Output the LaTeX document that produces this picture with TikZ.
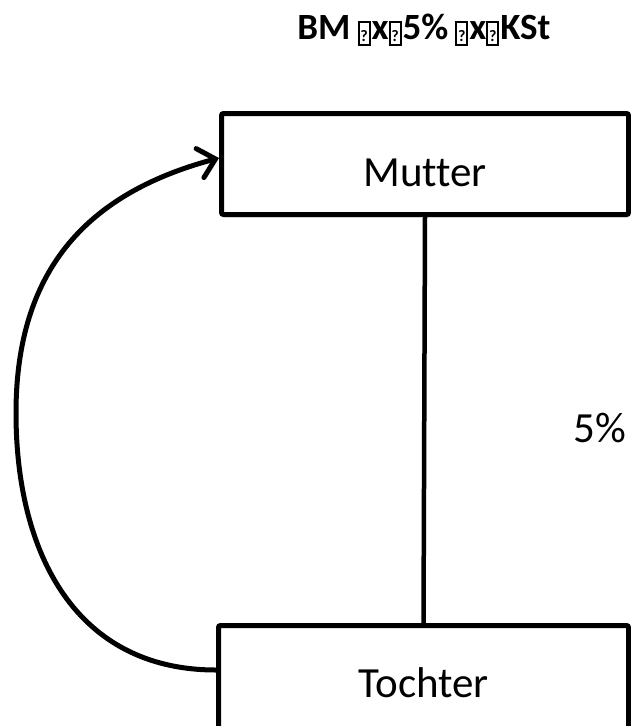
\documentclass[tikz,border=0pt]{standalone}
\usepackage{fontspec}
\setmainfont{Carlito}[Ligatures=NoCommon]
\usetikzlibrary{arrows.meta,shadows}

% stand-in for the glyphs the title font could not show
\newcommand\nogl[1]{{\kern#1\fboxsep=0pt\fboxrule=2pt\raisebox{-5pt}{\fbox{\rule{0pt}{21pt}\makebox[9pt]{\raisebox{3pt}{\fontsize{16}{16}\selectfont ?}}}}\kern1pt}}

\begin{document}
\begin{tikzpicture}[x=1pt,y=1pt,
  firm/.style={draw,line width=5pt,fill=white,rounded corners=2pt,text depth=0pt,
    font=\fontsize{43}{43}\selectfont,
    drop shadow={opacity=0.18,shadow xshift=2pt,shadow yshift=-3pt}},
  share/.style={line width=4.5pt}]
\useasboundingbox (0,0) rectangle (631,-726);
\node[anchor=base,font=\fontsize{37}{37}\selectfont\bfseries] (title) at (424,-39) {BM\nogl{7pt}x\nogl{0pt}5\%\nogl{7pt}x\nogl{0pt}KSt};
\node[firm,minimum width=407pt,minimum height=101pt,text height=44pt] (mutter) at (425,-164) {Mutter};
\node[firm,minimum width=410pt,minimum height=115pt,text height=28pt] (tochter) at (423.5,-683) {Tochter};
\node[anchor=base west,font=\fontsize{43}{43}\selectfont] (quote) at (570,-442) {5\%};
\coordinate (bend) at (16,-413);
\draw[share] (mutter.south) -- (tochter.north);
\draw[line width=5pt,line cap=round,-{Straight Barb[length=16pt,width=30pt,line cap=round]}]
  ([yshift=13pt]tochter.west) to[out=180,in=-90,looseness=1.1] (bend) to[out=90,in=195,looseness=1.1] ([yshift=6pt]mutter.west);
\end{tikzpicture}
\end{document}
